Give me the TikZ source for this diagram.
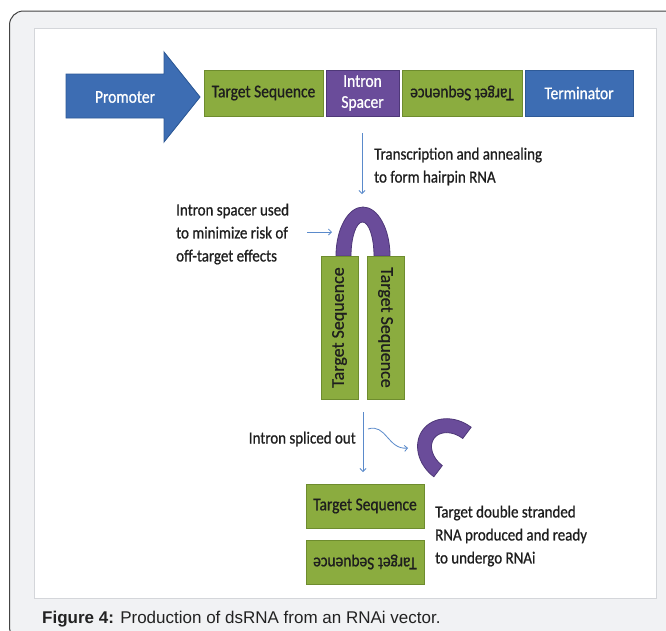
\documentclass[tikz,border=0pt]{standalone}
\usepackage{fontspec}
\setmainfont{Carlito}
\newfontfamily\cf[FakeStretch=0.86,FakeBold=0.8]{Carlito}
\newfontfamily\lf[FakeStretch=0.88,FakeBold=0.8]{Carlito}
\newfontfamily\vf[FakeBold=0.8]{Carlito}
\newfontfamily\capf{Liberation Sans}
\usetikzlibrary{arrows.meta}
\definecolor{framebg}{HTML}{F1F2F4}
\definecolor{framebd}{HTML}{444444}
\definecolor{panelbd}{HTML}{D4D6DA}
\definecolor{gfill}{HTML}{8BAC3F}
\definecolor{gdraw}{HTML}{6E8C2E}
\definecolor{bfill}{HTML}{3D6DB3}
\definecolor{bdraw}{HTML}{2E5A97}
\definecolor{pfill}{HTML}{6A4C9A}
\definecolor{pdraw}{HTML}{4E3878}
\definecolor{txt}{HTML}{1E1E1E}
\definecolor{arrc}{HTML}{5A8ACB}
\definecolor{capc}{HTML}{222222}
\tikzset{
  boxbase/.style={line width=0.9pt, inner sep=0pt, font=\cf\fontsize{18}{21}\selectfont, align=center},
  gbox/.style={boxbase, fill=gfill, draw=gdraw, text=txt},
  bbox/.style={boxbase, fill=bfill, draw=bdraw, text=white},
  pbox/.style={boxbase, fill=pfill, draw=pdraw, text=white},
  vbox/.style={gbox, font=\vf\fontsize{18}{21}\selectfont, minimum width=143pt, minimum height=37pt},
  lbl/.style={font=\lf\fontsize{17}{23}\selectfont, text=txt, align=left, inner sep=0pt},
  conn/.style={draw=arrc, line width=0.8pt, -{Straight Barb[length=3pt,width=6pt]}}
}
\begin{document}
\begin{tikzpicture}[x=1pt,y=-1pt]
\useasboundingbox (0,0) rectangle (666,630);
\begin{scope}
\clip (0,0) rectangle (666,630);
\draw[fill=framebg, draw=framebd, line width=1pt, rounded corners=14pt] (9.5,11) rectangle (700,641);
\end{scope}
\draw[fill=white, draw=panelbd, line width=0.8pt] (34,28) rectangle (656,598);

% top construct
\filldraw[fill=bfill, draw=bdraw, line width=0.9pt] (66,74) -- (164,74) -- (164,52) -- (200,97) -- (164,142) -- (164,118) -- (66,118) -- cycle;
\node[boxbase, text=white] (prom) at (125,97) {Promoter};
\node[gbox, minimum width=119pt, minimum height=46pt] (ts1) at (263.5,93) {Target Sequence};
\node[pbox, minimum width=73pt, minimum height=46pt] (intron) at (362.5,93) {Intron\\Spacer};
\node[gbox, minimum width=120pt, minimum height=46pt, rotate=180] (ts2) at (462,93) {Target Sequence};
\node[bbox, minimum width=108pt, minimum height=46pt] (term) at (579,93) {Terminator};

% transcription arrow
\coordinate (a1s) at (362,133);
\coordinate (a1e) at (362,194);
\draw[conn] (a1s) -- (a1e);
\node[lbl, anchor=west] (tlab) at (374,166.5) {Transcription and annealing\\to form hairpin RNA};

% hairpin
\filldraw[fill=pfill, draw=pdraw, line width=0.8pt] (336,256) arc[start angle=180, end angle=360, x radius=27, y radius=49] -- (374,256) arc[start angle=360, end angle=180, x radius=11.5, y radius=34] -- cycle;
\node[vbox, rotate=90] (hp1) at (339.5,327.5) {Target Sequence};
\node[vbox, rotate=-90] (hp2) at (385.5,327.5) {Target Sequence};

\node[lbl, anchor=west] (islab) at (176,234) {Intron spacer used\\to minimize risk of\\off-target effects};
\coordinate (i1) at (307,232);
\coordinate (i2) at (332,232);
\draw[conn] (i1) -- (i2);

% splicing
\coordinate (a2s) at (363,412);
\coordinate (a2e) at (363,472);
\draw[conn] (a2s) -- (a2e);
\node[lbl, anchor=east] (splab) at (356,439) {Intron spliced out};
\coordinate (c1) at (368,429);
\coordinate (c2) at (408,448);
\draw[conn] (c1) .. controls (386,423) and (388,450) .. (c2);

\begin{scope}[shift={(452.5,452)}, rotate=53]
\filldraw[fill=pfill, draw=pdraw, line width=0.8pt] (-31,0) arc[start angle=180, end angle=360, x radius=31, y radius=37] -- (17,0) arc[start angle=360, end angle=180, x radius=17, y radius=23] -- cycle;
\end{scope}

% dsRNA
\node[gbox, minimum width=118pt, minimum height=44pt] (b1) at (365,506) {Target Sequence};
\node[gbox, minimum width=118pt, minimum height=44pt, rotate=180] (b2) at (365,562) {Target Sequence};
\node[lbl, anchor=west] (dslab) at (435,536) {Target double stranded\\RNA produced and ready\\to undergo RNAi};

% caption
\node[anchor=west, inner sep=0pt, font=\capf\fontsize{17}{19}\selectfont, text=capc] (cap) at (42,619) {\textbf{Figure 4:} Production of dsRNA from an RNAi vector.};
\end{tikzpicture}
\end{document}
